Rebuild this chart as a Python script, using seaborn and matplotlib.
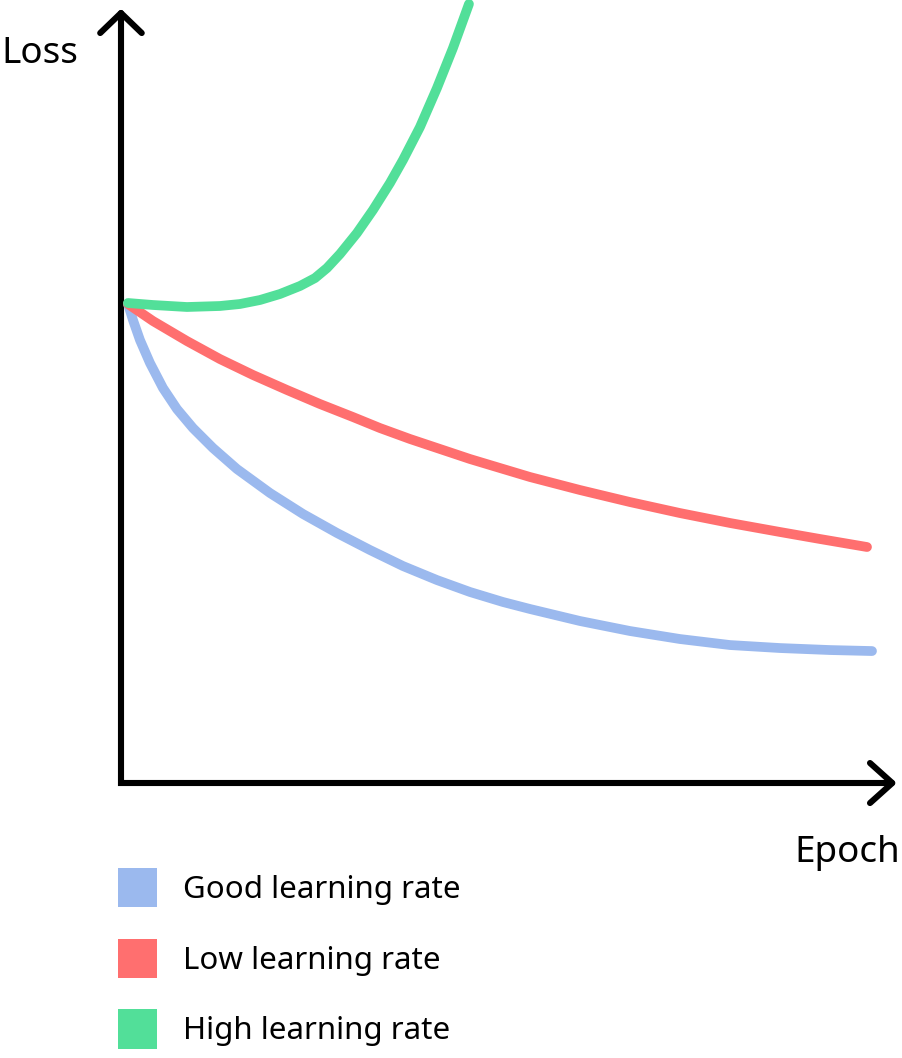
import numpy as np
import pandas as pd
import matplotlib
matplotlib.use("Agg")
import matplotlib.pyplot as plt
from matplotlib.patches import Patch
import seaborn as sns

# curve values (epoch, loss in arbitrary units)
good_epoch = [0.91, 1.56, 2.47, 3.77, 5.46, 7.28, 9.36, 11.96, 15.08, 19.38, 23.67, 28.09,
              32.38, 36.67, 41.09, 45.38, 49.67, 53.19, 59.69, 66.19, 72.69, 79.19, 85.70,
              92.20, 97.66]
good_loss = [62.21, 60.13, 57.53, 54.55, 51.30, 48.57, 46.10, 43.51, 40.78, 37.66, 34.94, 32.47,
             30.26, 28.18, 26.36, 24.81, 23.51, 22.60, 21.04, 19.74, 18.70, 17.92, 17.53,
             17.27, 17.14]

low_epoch = [0.91, 4.16, 8.58, 12.87, 17.17, 21.59, 25.88, 30.17, 33.68, 37.58, 41.48,
             45.38, 49.28, 53.19, 59.69, 66.19, 72.69, 79.19, 85.70, 90.90, 97.01]
low_loss = [62.21, 60.0, 57.40, 55.06, 52.99, 51.04, 49.22, 47.53, 46.10, 44.68, 43.38,
            42.08, 40.91, 39.74, 38.05, 36.49, 35.06, 33.77, 32.60, 31.69, 30.65]

high_epoch = [0.91, 4.16, 8.58, 12.87, 15.47, 18.08, 20.68, 23.28, 25.23, 26.79, 28.48,
              30.69, 32.77, 34.98, 36.67, 38.88, 41.09, 43.17, 45.25]
high_loss = [62.34, 62.08, 61.82, 61.95, 62.21, 62.73, 63.51, 64.55, 65.58, 66.88, 68.70,
             71.43, 74.42, 77.92, 80.91, 85.19, 90.26, 95.45, 101.17]

labels = ["Good learning rate", "Low learning rate", "High learning rate"]
colors = ["#9BB9EE", "#FF6F6F", "#52DF99"]

df = pd.concat([
    pd.DataFrame({"Epoch": good_epoch, "Loss": good_loss, "Rate": labels[0]}),
    pd.DataFrame({"Epoch": low_epoch, "Loss": low_loss, "Rate": labels[1]}),
    pd.DataFrame({"Epoch": high_epoch, "Loss": high_loss, "Rate": labels[2]}),
])

sns.set_style("white")
plt.rcParams["font.family"] = ["Noto Sans", "DejaVu Sans"]
plt.rcParams["text.color"] = "black"

fig = plt.figure(figsize=(9.03, 10.58), dpi=100)
ax = fig.add_axes([0, 0, 1, 1])
ax.set_xlim(-15.73, 101.69)
ax.set_ylim(-35.71, 101.69)
ax.axis("off")

sns.lineplot(data=df, x="Epoch", y="Loss", hue="Rate", palette=dict(zip(labels, colors)),
             estimator=None, linewidth=7.0, legend=False, ax=ax,
             solid_capstyle="round", solid_joinstyle="round", zorder=3)

# axes with arrow heads
axis_kw = dict(color="black", lw=4.4, solid_capstyle="round")
ax.plot([0, 0, 100.3], [100, 0, 0], solid_joinstyle="miter", **axis_kw)
ax.plot([-2.7, 0, 2.7], [97.4, 100, 97.4], solid_joinstyle="round", **axis_kw)
ax.plot([97.4, 100.3, 97.4], [2.6, 0, -2.6], solid_joinstyle="round", **axis_kw)

ax.text(-15.5, 93.5, "Loss", fontsize=26.5, ha="left", va="baseline")
ax.text(101.3, -10.3, "Epoch", fontsize=26.5, ha="right", va="baseline")

handles = [Patch(facecolor=c, edgecolor="none") for c in colors]
fig.legend(handles, labels, loc="upper left", bbox_to_anchor=(118 / 903, 1 - 868 / 1058),
           frameon=False, fontsize=22.5, borderpad=0, borderaxespad=0,
           handlelength=1.26, handleheight=1.56, handletextpad=0.83, labelspacing=1.0)

fig.savefig("out.png", dpi=100, facecolor="white")
